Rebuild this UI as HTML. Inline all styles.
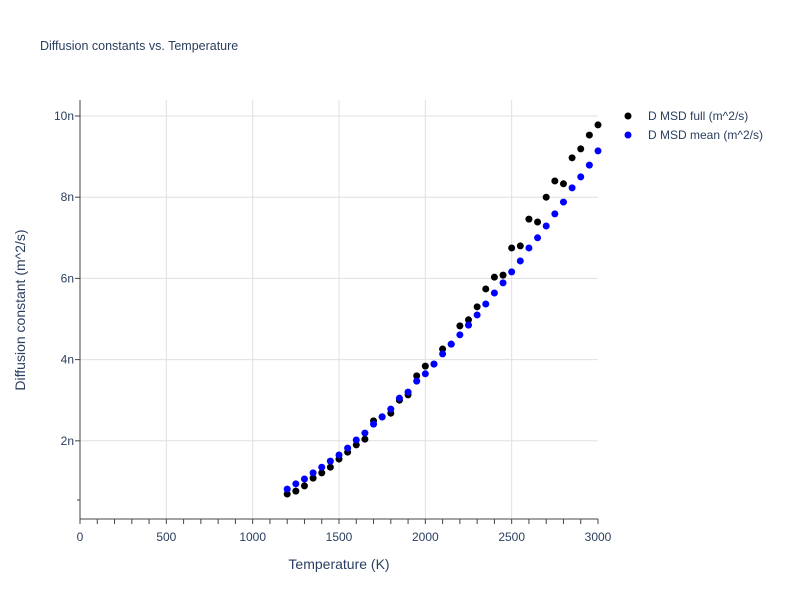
<!DOCTYPE html>
<html><head><meta charset="utf-8"><style>
body{margin:0;background:#fff;font-family:"Liberation Sans",sans-serif}
svg text{font-family:"Liberation Sans",sans-serif;fill:#2a3f5f}
</style></head><body>
<svg id="chart" width="800" height="600" xmlns="http://www.w3.org/2000/svg">
<rect width="800" height="600" fill="#fff"/>
<text x="40" y="50" font-size="12.5">Diffusion constants vs. Temperature</text>
<g id="grid"></g><g id="axes"></g><g id="marks"></g>
<text x="339" y="569" font-size="14" text-anchor="middle">Temperature (K)</text>
<text transform="translate(25,310) rotate(-90)" font-size="14" text-anchor="middle">Diffusion constant (m^2/s)</text>
<g>
<circle cx="628" cy="116" r="3.5" fill="#000"/><text x="648" y="120" font-size="12">D MSD full (m^2/s)</text>
<circle cx="628" cy="135" r="3.5" fill="#0000ff"/><text x="648" y="139" font-size="12">D MSD mean (m^2/s)</text>
</g>
</svg>
<script>
const temps=[1200,1250,1300,1350,1400,1450,1500,1550,1600,1650,1700,1750,1800,1850,1900,1950,2000,2050,2100,2150,2200,2250,2300,2350,2400,2450,2500,2550,2600,2650,2700,2750,2800,2850,2900,2950,3000];
const dFull=[0.69,0.76,0.89,1.08,1.21,1.35,1.55,1.72,1.90,2.04,2.49,2.59,2.68,3.00,3.13,3.60,3.84,3.89,4.26,4.38,4.83,4.98,5.30,5.74,6.03,6.08,6.75,6.80,7.46,7.39,8.00,8.40,8.33,8.97,9.19,9.53,9.78];
const dMean=[0.81,0.94,1.06,1.21,1.35,1.50,1.65,1.82,2.02,2.19,2.41,2.59,2.78,3.05,3.20,3.47,3.65,3.89,4.14,4.38,4.61,4.85,5.10,5.37,5.64,5.89,6.16,6.43,6.75,7.00,7.29,7.59,7.88,8.23,8.50,8.79,9.14];
const xTicks=[0,500,1000,1500,2000,2500,3000];
const yTicks=[2,4,6,8,10];
const yLabels=["2n","4n","6n","8n","10n"];
const X0=80,X1=598,YT=100,YB=519;
const xs=v=>X0+(v-0)/3000*(X1-X0);
const ys=v=>522-v*40.6;
const NS="http://www.w3.org/2000/svg";
function mk(t,a,p){const e=document.createElementNS(NS,t);for(const k in a)e.setAttribute(k,a[k]);p.appendChild(e);return e;}
const grid=document.getElementById('grid'),axes=document.getElementById('axes'),marks=document.getElementById('marks');
xTicks.forEach(t=>{
  if(t>0&&t<3000){const l=mk('line',{x1:xs(t),x2:xs(t),y1:YT,y2:YB,stroke:'#e0e0e0','stroke-width':1},grid);
  
  }
  const tx=mk('text',{x:xs(t),y:541,'font-size':12,'text-anchor':'middle'},axes);tx.textContent=t;
  
  
});
for(let t=0;t<=3000;t+=100){mk('line',{x1:xs(t),x2:xs(t),y1:YB,y2:YB+5,stroke:'#444','stroke-width':1},axes);}
yTicks.forEach((t,i)=>{
  const l=mk('line',{x1:X0,x2:X1,y1:ys(t),y2:ys(t),stroke:'#e0e0e0','stroke-width':1},grid);
  
  
  mk('line',{x1:X0-5,x2:X0,y1:ys(t),y2:ys(t),stroke:'#444'},axes);
  const tx=mk('text',{x:X0-6,y:ys(t)+4,'font-size':12,'text-anchor':'end'},axes);tx.textContent=yLabels[i];
  
  
});
mk('line',{x1:X0-3,x2:X0,y1:500,y2:500,stroke:'#444'},axes);
mk('line',{x1:X0,x2:X0,y1:YT,y2:YB,stroke:'#444'},axes);
mk('line',{x1:X0,x2:X1,y1:YB,y2:YB,stroke:'#444'},axes);
temps.forEach((t,i)=>{
  const c=mk('circle',{cx:xs(t),cy:ys(dFull[i]),r:3.5,fill:'#000'},marks);
  
  
});
temps.forEach((t,i)=>{
  const c=mk('circle',{cx:xs(t),cy:ys(dMean[i]),r:3.5,fill:'#0000ff'},marks);
  
  
});
</script>
</body></html>
